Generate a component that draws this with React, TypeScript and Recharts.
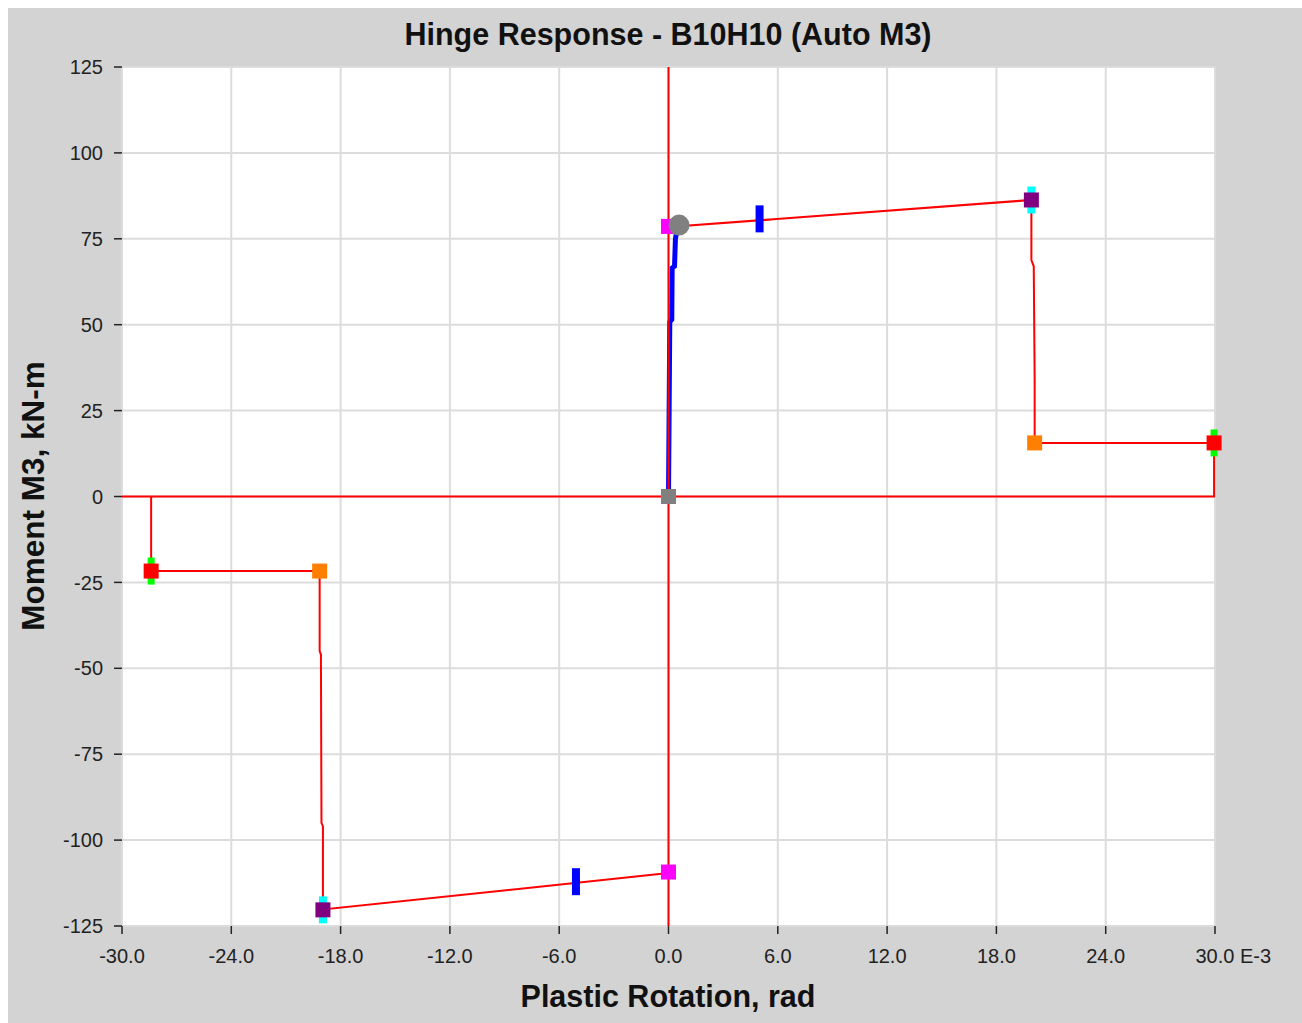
import React from 'react';
import { ComposedChart, Scatter, XAxis, YAxis, CartesianGrid } from 'recharts';

const xTicks = [-30, -24, -18, -12, -6, 0, 6, 12, 18, 24, 30];
const yTicks = [125, 100, 75, 50, 25, 0, -25, -50, -75, -100, -125];

const chartTitle = 'Hinge Response - B10H10 (Auto M3)';
const xTitle = 'Plastic Rotation, rad';
const yTitle = 'Moment M3, kN-m';
const xUnitSuffix = 'E-3';

// red reference lines through origin
const zeroVertical = [{ x: 0, y: -125 }, { x: 0, y: 125 }];
const zeroHorizontal = [{ x: -30, y: 0 }, { x: 30, y: 0 }];

// positive backbone
const backbonePos = [
  { x: 0, y: 78.4 },
  { x: 19.92, y: 86.3 },
  { x: 19.92, y: 68.8 },
  { x: 20.05, y: 67 },
  { x: 20.1, y: 34 },
  { x: 20.1, y: 15.6 },
  { x: 29.95, y: 15.6 },
  { x: 29.95, y: 0 },
];

// negative backbone
const backboneNeg = [
  { x: 0, y: -109.6 },
  { x: -18.97, y: -120.2 },
  { x: -18.97, y: -96 },
  { x: -19.05, y: -95 },
  { x: -19.08, y: -46 },
  { x: -19.15, y: -45 },
  { x: -19.15, y: -21.7 },
  { x: -28.4, y: -21.7 },
  { x: -28.4, y: 0 },
];

// response path (blue)
const responsePath = [
  { x: 0, y: 0 },
  { x: 0.07, y: 50.8 },
  { x: 0.18, y: 51.5 },
  { x: 0.2, y: 66.5 },
  { x: 0.33, y: 67 },
  { x: 0.38, y: 75 },
  { x: 0.45, y: 77 },
];

const grayPoints = [{ x: 0, y: 0 }];
const magentaPoints = [{ x: 0, y: 78.6 }, { x: 0, y: -109.3 }];
const purplePoints = [{ x: 19.92, y: 86.3 }, { x: -18.97, y: -120.3 }];
const orangePoints = [{ x: 20.1, y: 15.6 }, { x: -19.15, y: -21.7 }];
const redPoints = [{ x: 29.95, y: 15.6 }, { x: -28.4, y: -21.7 }];
const blueBars = [{ x: 5.0, y: 80.8 }, { x: -5.08, y: -112.1 }];
const currentPoint = [{ x: 0.58, y: 79 }];

const FONT = '"Liberation Sans", Arial, sans-serif';

const none = () => <g />;

const square = (fill: string) => (p: any) => (
  <rect x={p.cx - 7.5} y={p.cy - 7.5} width={15} height={15} fill={fill} />
);
const vbar = (fill: string, w: number) => (p: any) => (
  <rect x={p.cx - w / 2} y={p.cy - 13.5} width={w} height={27} fill={fill} />
);
const circle = (fill: string) => (p: any) => <circle cx={p.cx} cy={p.cy} r={10.5} fill={fill} />;

const XTick = (props: any) => {
  const { x, y, payload } = props;
  const v = payload.value as number;
  const label = v.toFixed(1);
  if (v === 30) {
    return (
      <text x={x - 19.5} y={y} dy="0.71em" textAnchor="start" fontSize={20} fill="#222" fontFamily={FONT}>
        {label} {xUnitSuffix}
      </text>
    );
  }
  return (
    <text x={x} y={y} dy="0.71em" textAnchor="middle" fontSize={20} fill="#222" fontFamily={FONT}>
      {label}
    </text>
  );
};

export default function App() {
  return (
    <div
      style={{
        position: 'fixed',
        left: 8,
        top: 8,
        width: 1294,
        height: 1015,
        background: '#d3d3d3',
        overflow: 'hidden',
      }}
    >
      <style>{'html{overflow:hidden}'}</style>
      <ComposedChart width={1294} height={1015} margin={{ top: 59, right: 87, left: 0, bottom: 0 }}>
        <CartesianGrid stroke="#dcdcdc" strokeWidth={2} fill="#ffffff" />
        <XAxis
          type="number"
          dataKey="x"
          domain={[-30, 30]}
          ticks={xTicks}
          height={97}
          axisLine={false}
          tickSize={8}
          tickMargin={15}
          tickLine={{ stroke: '#222', strokeWidth: 1.5 }}
          tick={<XTick />}
          interval={0}
        />
        <YAxis
          type="number"
          dataKey="y"
          domain={[-125, 125]}
          ticks={yTicks}
          width={114}
          axisLine={false}
          tickSize={8}
          tickMargin={11}
          tickLine={{ stroke: '#222', strokeWidth: 1.5 }}
          tick={{ fontSize: 20, fill: '#222', fontFamily: FONT }}
          interval={0}
        />
        <Scatter data={responsePath} line={{ stroke: '#0000ff', strokeWidth: 5 }} shape={none} isAnimationActive={false} />
        <Scatter data={zeroHorizontal} line={{ stroke: '#ff0000', strokeWidth: 2 }} shape={none} isAnimationActive={false} />
        <Scatter data={zeroVertical} line={{ stroke: '#ff0000', strokeWidth: 2 }} shape={none} isAnimationActive={false} />
        <Scatter data={backbonePos} line={{ stroke: '#ff0000', strokeWidth: 2 }} shape={none} isAnimationActive={false} />
        <Scatter data={backboneNeg} line={{ stroke: '#ff0000', strokeWidth: 2 }} shape={none} isAnimationActive={false} />
        <Scatter data={purplePoints} shape={vbar('#00ffff', 8)} isAnimationActive={false} />
        <Scatter data={redPoints} shape={vbar('#00ff00', 7)} isAnimationActive={false} />
        <Scatter data={blueBars} shape={vbar('#0000ff', 8)} isAnimationActive={false} />
        <Scatter data={grayPoints} shape={square('#808080')} isAnimationActive={false} />
        <Scatter data={magentaPoints} shape={square('#ff00ff')} isAnimationActive={false} />
        <Scatter data={purplePoints} shape={square('#800080')} isAnimationActive={false} />
        <Scatter data={orangePoints} shape={square('#ff8000')} isAnimationActive={false} />
        <Scatter data={redPoints} shape={square('#ff0000')} isAnimationActive={false} />
        <Scatter data={currentPoint} shape={circle('#808080')} isAnimationActive={false} />
      </ComposedChart>
      <svg width={1294} height={1015} style={{ position: 'absolute', left: 0, top: 0, pointerEvents: 'none' }}>
        <text x={660} y={37} textAnchor="middle" fontSize={30.5} fontWeight="bold" fill="#111" fontFamily={FONT}>
          {chartTitle}
        </text>
        <text x={660} y={999} textAnchor="middle" fontSize={30.5} fontWeight="bold" fill="#111" fontFamily={FONT}>
          {xTitle}
        </text>
        <text
          x={36}
          y={488}
          transform="rotate(-90, 36, 488)"
          textAnchor="middle"
          fontSize={31.5}
          fontWeight="bold"
          fill="#111"
          fontFamily={FONT}
        >
          {yTitle}
        </text>
      </svg>
    </div>
  );
}
